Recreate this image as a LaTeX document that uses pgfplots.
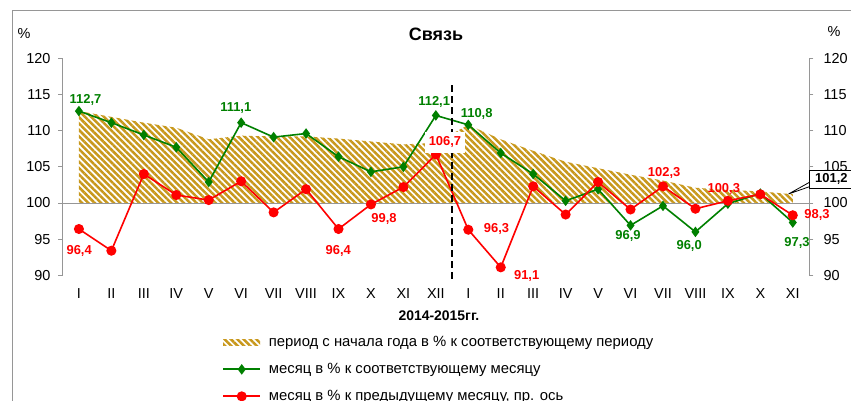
\documentclass[border=0pt]{standalone}
\usepackage{pgfplots}
\pgfplotsset{compat=1.18}
\usepackage{pgfplotstable}
\usepackage{fontspec}
\setmainfont{Liberation Sans}
\usetikzlibrary{patterns.meta}
\definecolor{hatch}{RGB}{200,152,28}
\definecolor{sgreen}{RGB}{0,128,0}
\definecolor{sred}{RGB}{255,0,0}
\definecolor{axgray}{RGB}{150,150,150}
\newcommand{\fs}[1]{\fontsize{#1}{#1}\selectfont}
\newcommand{\lab}[4]{\node[font=\bfseries\fs{13}, text=#1, anchor=base, inner sep=0pt] at ({#2*1bp},{(401-#3-4.65)*1bp}) {#4};}

\pgfplotsset{
  arealeg/.style={legend image code/.code={\fill[##1] (0bp,-3.3bp) rectangle (37bp,3.3bp);}},
  greenleg/.style={legend image code/.code={%
    \draw[sgreen, line width=2bp] (0bp,0bp) -- (37bp,0bp);
    \fill[sgreen] (18.5bp,-4bp) -- (21.5bp,0bp) -- (18.5bp,4bp) -- (15.5bp,0bp) -- cycle;}},
  redleg/.style={legend image code/.code={%
    \draw[sred, line width=2bp] (0bp,0bp) -- (37bp,0bp);
    \fill[sred] (18.5bp,0bp) circle (4.2bp);}},
}

\pgfplotstableread{
x area green red
0 112.7 112.7 96.4
1 111.9 111.1 93.4
2 111.1 109.4 104.0
3 110.4 107.7 101.1
4 108.8 102.9 100.4
5 109.3 111.1 103.0
6 109.2 109.1 98.7
7 109.2 109.6 101.9
8 108.9 106.4 96.4
9 108.5 104.3 99.8
10 108.1 105.0 102.2
11 108.3 112.1 106.7
12 110.8 110.8 96.3
13 108.8 106.9 91.1
14 107.2 104.0 102.3
15 105.7 100.3 98.4
16 104.8 101.9 102.9
17 103.9 96.9 99.1
18 103.1 99.6 102.3
19 102.1 96.0 99.2
20 101.8 99.9 100.3
21 101.6 101.3 101.2
22 101.2 97.3 98.3
}\datatable

\pgfplotstableread{
x y
0 112.7
1 111.9
2 111.1
3 110.4
4 108.8
5 109.3
6 109.2
7 109.2
8 108.9
9 108.5
10 108.1
11 108.3
12 110.8
13 108.8
14 107.2
15 105.7
16 104.8
17 103.9
18 103.1
19 102.1
20 101.8
21 101.6
22 101.2
22 100
0 100
}\areatable

\begin{document}
\begin{tikzpicture}
\path[use as bounding box] (0,0) rectangle (851bp,401bp);
\draw[axgray, line width=0.8bp] (12bp,-5bp) -- (12bp,391bp) -- (860bp,391bp);

\begin{axis}[
  at={(62.7bp,125.7bp)}, anchor=south west,
  scale only axis, width=746.3bp, height=217bp,
  xmin=-0.5, xmax=22.5, ymin=90, ymax=120,
  axis y line*=left, axis x line*=bottom,
  x axis line style={draw=none},
  y axis line style={axgray, line width=0.8bp, -},
  xtick={0,...,22},
  xticklabels={I,II,III,IV,V,VI,VII,VIII,IX,X,XI,XII,I,II,III,IV,V,VI,VII,VIII,IX,X,XI},
  xtick style={draw=none},
  ytick={90,95,...,120},
  ytick style={axgray, line width=0.8bp},
  tick align=outside, major tick length=4.3bp,
  ticklabel style={font=\fs{14.5}},
  /pgf/number format/assume math mode=true,
  xticklabel style={anchor=center, inner sep=0pt, yshift=-14.4bp},
  yticklabel style={inner sep=0pt, xshift=-7.7bp},
  clip=false,
  legend cell align=left,
  legend style={at={(0.2135,-0.277)}, anchor=north west, draw=none, fill=none,
    font=\fs{14.9}, inner sep=0pt, row sep=13.5bp, column sep=7.7bp,
    nodes={inner sep=0pt, text height=10.5bp, text depth=3bp}},
]
\addplot[draw=none, pattern={Lines[angle=-45,distance=4.5bp,line width=2.5bp]}, pattern color=hatch, arealeg]
  table[x=x,y=y] {\areatable};
\addlegendentry{период с начала года в \% к соответствующему периоду}
\addplot[axgray, line width=0.8bp, forget plot] coordinates {(-0.5,100) (22.5,100)};
\addplot[sgreen, line width=1.6bp, mark=diamond*, mark size=4bp, mark options={solid}, greenleg]
  table[x=x,y=green] {\datatable};
\addlegendentry{месяц в \% к соответствующему месяцу}
\addplot[sred, line width=1.6bp, mark=*, mark size=4.2bp, mark options={solid}, redleg]
  table[x=x,y=red] {\datatable};
\addlegendentry{месяц в \% к предыдущему месяцу, пр. ось}
\addplot[black, line width=1.2bp, dash pattern=on 7bp off 4bp, forget plot] coordinates {(11.5,89.5) (11.5,116.7)};
\end{axis}

\begin{axis}[
  at={(62.7bp,125.7bp)}, anchor=south west,
  scale only axis, width=746.3bp, height=217bp,
  xmin=-0.5, xmax=22.5, ymin=90, ymax=120,
  axis y line*=right, axis x line=none,
  y axis line style={axgray, line width=0.8bp, -},
  ytick={90,95,...,120},
  ytick style={axgray, line width=0.8bp},
  tick align=outside, major tick length=4.3bp,
  ticklabel style={font=\fs{14.5}},
  /pgf/number format/assume math mode=true,
  yticklabel style={inner sep=0pt, xshift=10bp},
]
\end{axis}

% title and side labels
\node[font=\bfseries\fs{18}, anchor=base, inner sep=0pt] at (436bp,{(401-40.7)*1bp}) {Связь};
\node[font=\fs{14.5}, anchor=base, inner sep=0pt] at (24bp,{(401-38.3)*1bp}) {\%};
\node[font=\fs{14.5}, anchor=base, inner sep=0pt] at (834bp,{(401-36.7)*1bp}) {\%};
\node[font=\bfseries\fs{14}, anchor=base, inner sep=0pt] at (438.9bp,{(401-320)*1bp}) {2014-2015гг.};

% data labels
\lab{sgreen}{85.5}{99.3}{112,7}
\lab{sgreen}{235.8}{107.3}{111,1}
\lab{sgreen}{434.2}{100.7}{112,1}
\lab{sgreen}{476.7}{113.3}{110,8}
\lab{sgreen}{628}{235}{96,9}
\lab{sgreen}{689.2}{245}{96,0}
\lab{sgreen}{797}{241.7}{97,3}
\lab{sred}{79.2}{250}{96,4}
\lab{sred}{338.3}{250}{96,4}
\lab{sred}{384}{217.7}{99,8}
\node[font=\bfseries\fs{13}, text=sred, anchor=base, fill=white, inner xsep=4bp, inner ysep=5bp] at ({445*1bp},{(401-141-4.65)*1bp}) {106,7};
\lab{sred}{496.5}{228.3}{96,3}
\lab{sred}{526.7}{275}{91,1}
\lab{sred}{664.2}{172.3}{102,3}
\lab{sred}{723.8}{187.7}{100,3}
\lab{sred}{817}{214}{98,3}

% callout 101,2
\filldraw[draw=black, fill=white, line width=0.8bp] ({810*1bp},{(401-182)*1bp}) -- ({788.5*1bp},{(401-194)*1bp}) -- ({810*1bp},{(401-186.5)*1bp});
\node[draw=black, fill=white, line width=0.8bp, font=\bfseries\fs{13}, anchor=west, inner xsep=5.5bp, minimum height=18.3bp] at ({809.3*1bp},{(401-179.2)*1bp}) {101,2};
\end{tikzpicture}
\end{document}
